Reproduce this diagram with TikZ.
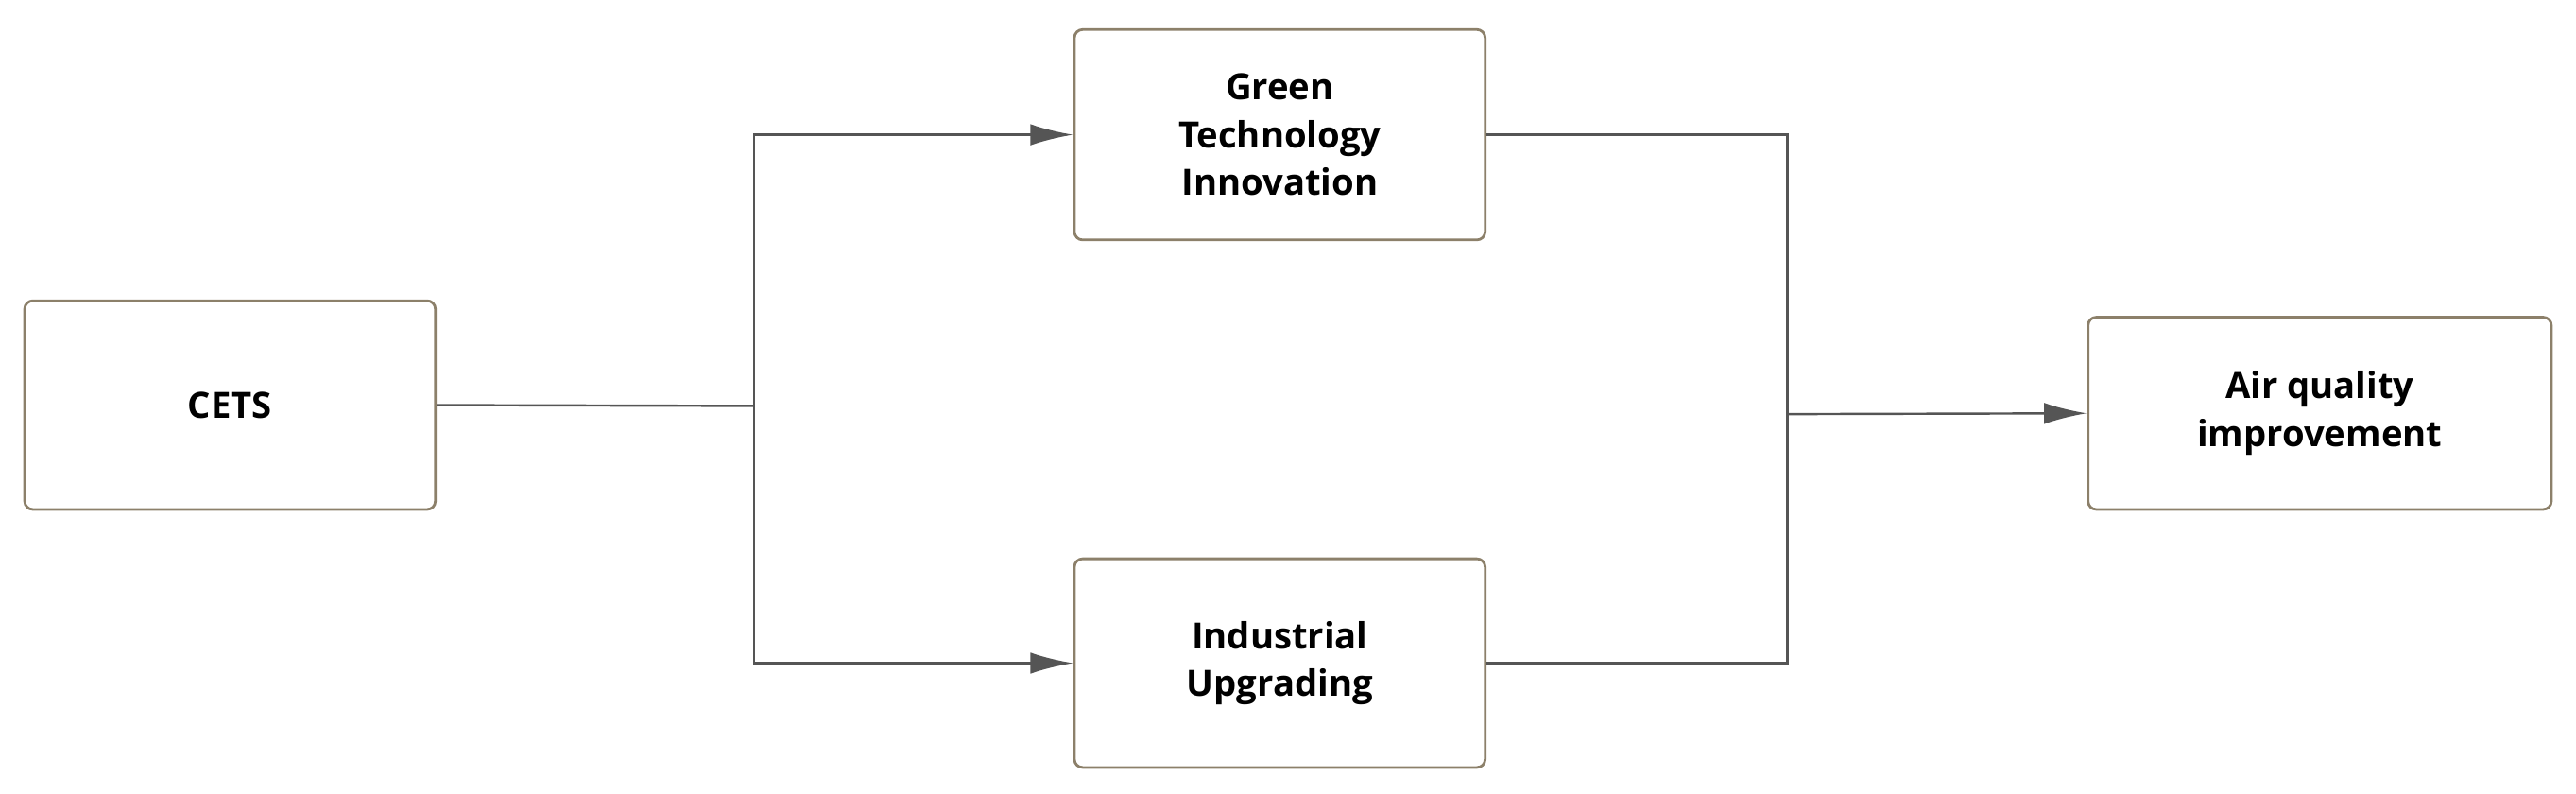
\documentclass[tikz,border=0pt]{standalone}
\usepackage{fontspec}
\setmainfont{Open Sans}
\usetikzlibrary{arrows.meta}
\definecolor{boxc}{HTML}{8C806A}
\definecolor{linec}{HTML}{555555}
\begin{document}
\begin{tikzpicture}[x=1pt,y=-1pt,
  bx/.style={draw=boxc,line width=1.6pt,rounded corners=5pt,align=center,font=\bfseries\fontsize{22}{29}\selectfont,inner sep=0pt},
  ln/.style={draw=linec,line width=1.4pt},
  ar/.style={ln,-{Latex[length=26pt,width=13pt]}}]
\useasboundingbox (0,0) rectangle (1568,483);
\node[bx,minimum width=250pt,minimum height=127pt] (cets) at (140,246.5) {CETS};
\node[bx,minimum width=250pt,minimum height=128pt] (gti) at (779,82) {Green\\Technology\\Innovation};
\node[bx,minimum width=250pt,minimum height=127pt] (iu) at (779,403.5) {Industrial\\Upgrading};
\node[bx,minimum width=282pt,minimum height=117pt] (aqi) at (1412,251.5) {Air quality\\improvement};
\coordinate (j1) at (459,247);
\coordinate (j2) at (1088,252);
\draw[ln] (cets.east) -- (j1);
\draw[ar] (j1) |- (gti.west);
\draw[ar] (j1) |- (iu.west);
\draw[ln] (gti.east) -| (j2);
\draw[ln] (iu.east) -| (j2);
\draw[ar] (j2) -- (aqi.west);
\end{tikzpicture}
\end{document}
